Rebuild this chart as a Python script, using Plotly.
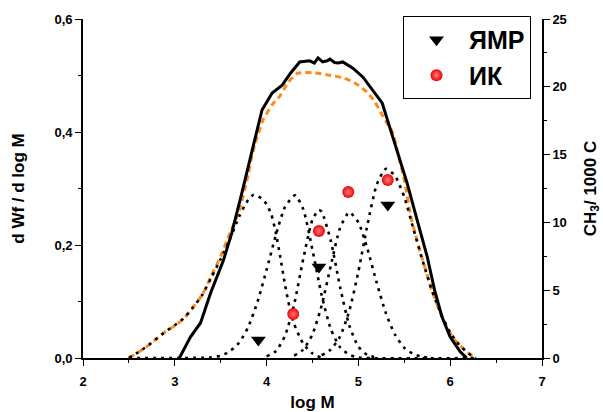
import plotly.graph_objects as go

# Experimental MWD curve (solid)
exp_logm = [3.05, 3.17, 3.28, 3.39, 3.53, 3.62, 3.73, 3.84, 3.95, 4.06, 4.17, 4.26,
            4.36, 4.47, 4.52, 4.56, 4.61, 4.66, 4.69, 4.74, 4.78, 4.83, 4.94, 5.05,
            5.16, 5.26, 5.34, 5.43, 5.53, 5.64, 5.75, 5.83, 5.91, 6.00, 6.11, 6.18]
exp_w = [0.000, 0.037, 0.062, 0.115, 0.173, 0.221, 0.292, 0.368, 0.439, 0.469, 0.483, 0.504,
         0.524, 0.526, 0.522, 0.531, 0.524, 0.526, 0.529, 0.523, 0.522, 0.524, 0.513, 0.497,
         0.474, 0.451, 0.409, 0.363, 0.310, 0.244, 0.179, 0.120, 0.073, 0.037, 0.011, 0.000]

# Fitted envelope (orange dashed)
fit_logm = [2.50, 2.60, 2.70, 2.80, 2.90, 3.00, 3.10, 3.20, 3.30, 3.40, 3.50, 3.60, 3.70,
            3.80, 3.85, 3.90, 3.96, 4.06, 4.15, 4.23, 4.34, 4.50, 4.67, 4.83, 4.96, 5.09,
            5.18, 5.27, 5.37, 5.43, 5.50, 5.58, 5.69, 5.80, 5.94, 6.05, 6.16, 6.27]
fit_w = [0.000, 0.010, 0.021, 0.034, 0.047, 0.057, 0.070, 0.090, 0.112, 0.146, 0.180, 0.221, 0.260,
         0.325, 0.365, 0.392, 0.421, 0.448, 0.465, 0.487, 0.504, 0.505, 0.501, 0.496, 0.487, 0.471,
         0.453, 0.427, 0.400, 0.363, 0.315, 0.244, 0.179, 0.120, 0.062, 0.032, 0.014, 0.000]

# Flory components (dotted)
c1_logm = [2.50, 2.60, 2.70, 2.80, 2.90, 3.00, 3.10, 3.20, 3.30, 3.40, 3.50, 3.60, 3.70,
           3.80, 3.86, 3.95, 4.00, 4.05, 4.10, 4.15, 4.20, 4.25, 4.30, 4.40, 4.50, 4.60]
c1_w = [0.000, 0.010, 0.021, 0.034, 0.047, 0.058, 0.071, 0.090, 0.112, 0.143, 0.175, 0.210, 0.250,
        0.280, 0.289, 0.282, 0.272, 0.255, 0.222, 0.178, 0.130, 0.090, 0.060, 0.025, 0.008, 0.000]

c2_logm = [2.50, 3.40, 3.50, 3.60, 3.70, 3.80, 3.90, 4.00, 4.10, 4.20, 4.31,
           4.40, 4.50, 4.60, 4.70, 4.80, 4.90, 5.00, 6.30]
c2_w = [0.000, 0.001, 0.004, 0.012, 0.027, 0.055, 0.099, 0.156, 0.217, 0.267, 0.288,
        0.263, 0.191, 0.111, 0.051, 0.019, 0.006, 0.001, 0.000]

c3_logm = [4.00, 4.10, 4.20, 4.30, 4.40, 4.50, 4.57, 4.60, 4.70, 4.80, 4.90, 5.00, 5.10, 5.20]
c3_w = [0.003, 0.012, 0.039, 0.095, 0.176, 0.245, 0.262, 0.259, 0.207, 0.126, 0.058, 0.020, 0.005, 0.001]

c4_logm = [4.30, 4.40, 4.50, 4.60, 4.70, 4.80, 4.90, 5.00, 5.10, 5.20, 5.30, 5.40, 5.50, 5.60, 5.70, 5.80]
c4_w = [0.004, 0.015, 0.042, 0.093, 0.164, 0.230, 0.258, 0.240, 0.192, 0.133, 0.079, 0.041, 0.018, 0.007, 0.002, 0.000]

c5_logm = [4.60, 4.70, 4.80, 4.90, 5.00, 5.10, 5.20, 5.30, 5.40, 5.50, 5.60, 5.70, 5.80,
           5.90, 6.00, 6.10, 6.20, 6.28]
c5_w = [0.005, 0.015, 0.038, 0.083, 0.153, 0.237, 0.307, 0.335, 0.322, 0.285, 0.228, 0.172, 0.120,
        0.078, 0.045, 0.023, 0.008, 0.000]

# Branching (CH3 per 1000 C), right axis
nmr_logm = [3.91, 4.57, 5.32]
nmr_ch3 = [1.33, 6.71, 11.28]
ir_logm = [4.29, 4.57, 4.89, 5.32]
ir_ch3 = [3.24, 9.37, 12.24, 13.13]

x_ticks = [2, 3, 4, 5, 6, 7]
x_minor = [2.5, 3.5, 4.5, 5.5, 6.5]
yl_ticks = [0.0, 0.2, 0.4, 0.6]
yl_text = ["0,0", "0,2", "0,4", "0,6"]
yl_minor = [0.1, 0.3, 0.5]
yr_ticks = [0, 5, 10, 15, 20, 25]
yr_minor = [2.5, 7.5, 12.5, 17.5, 22.5]

FONT = "Liberation Sans, Arial, sans-serif"
dot = "3px,5px"

fig = go.Figure()

fig.add_trace(go.Scatter(x=fit_logm, y=fit_w, mode="lines", showlegend=False,
                         line=dict(color="#FF8A1C", width=3, dash="6px,4px", shape="spline", smoothing=0.6)))

for cx, cy in [(c1_logm, c1_w), (c2_logm, c2_w), (c3_logm, c3_w), (c4_logm, c4_w), (c5_logm, c5_w)]:
    fig.add_trace(go.Scatter(x=cx, y=cy, mode="lines", showlegend=False,
                             line=dict(color="black", width=2.6, dash=dot, shape="spline", smoothing=0.6)))

fig.add_trace(go.Scatter(x=exp_logm, y=exp_w, mode="lines", showlegend=False,
                         line=dict(color="black", width=3)))

fig.add_trace(go.Scatter(x=nmr_logm, y=nmr_ch3, yaxis="y2", mode="markers", name="ЯМР",
                         marker=dict(symbol="triangle-down", size=13, color="black")))
fig.add_trace(go.Scatter(x=ir_logm, y=ir_ch3, yaxis="y2", mode="markers", name="ИК",
                         marker=dict(symbol="circle", size=12, color="#F00000",
                                     line=dict(width=0),
                                     gradient=dict(type="radial", color="#FF8080"))))

tickfont = dict(family=FONT, size=13, color="black", weight="bold")
titlefont = dict(family=FONT, size=17, color="black", weight="bold")

axis_common = dict(showline=True, linewidth=1.6, linecolor="black", showgrid=False, zeroline=False,
                   ticks="outside", ticklen=6, tickwidth=1.4, tickcolor="black", tickfont=tickfont,
                   automargin=False)

fig.update_layout(
    width=603, height=412,
    margin=dict(l=83, r=61, t=19, b=54),
    plot_bgcolor="white", paper_bgcolor="white",
    xaxis=dict(range=[2, 7], tickmode="array", tickvals=x_ticks, ticktext=[str(v) for v in x_ticks],
               minor=dict(tickvals=x_minor, ticklen=3, tickwidth=1.4, tickcolor="black", ticks="outside"),
               ticklabelstandoff=5,
               title=dict(text="log M", font=titlefont, standoff=10), **axis_common),
    yaxis=dict(range=[0, 0.6], tickmode="array", tickvals=yl_ticks, ticktext=yl_text,
               minor=dict(tickvals=yl_minor, ticklen=3, tickwidth=1.4, tickcolor="black", ticks="outside"),
               title=dict(text="d Wf / d log M", font=titlefont, standoff=26), **axis_common),
    yaxis2=dict(range=[0, 25], overlaying="y", side="right", tickmode="array", tickvals=yr_ticks,
                ticktext=[str(v) for v in yr_ticks],
                minor=dict(tickvals=yr_minor, ticklen=3, tickwidth=1.4, tickcolor="black", ticks="outside"),
                title=dict(text="CH<sub>3</sub>/ 1000 C", font=titlefont, standoff=18), **axis_common),
    legend=dict(x=0.976, y=1.009, xanchor="right", yanchor="top",
                bordercolor="black", borderwidth=1, bgcolor="white",
                font=dict(family=FONT, size=25, color="black", weight="bold"),
                itemwidth=55, tracegroupgap=0),
)

fig.write_html("out.html")
